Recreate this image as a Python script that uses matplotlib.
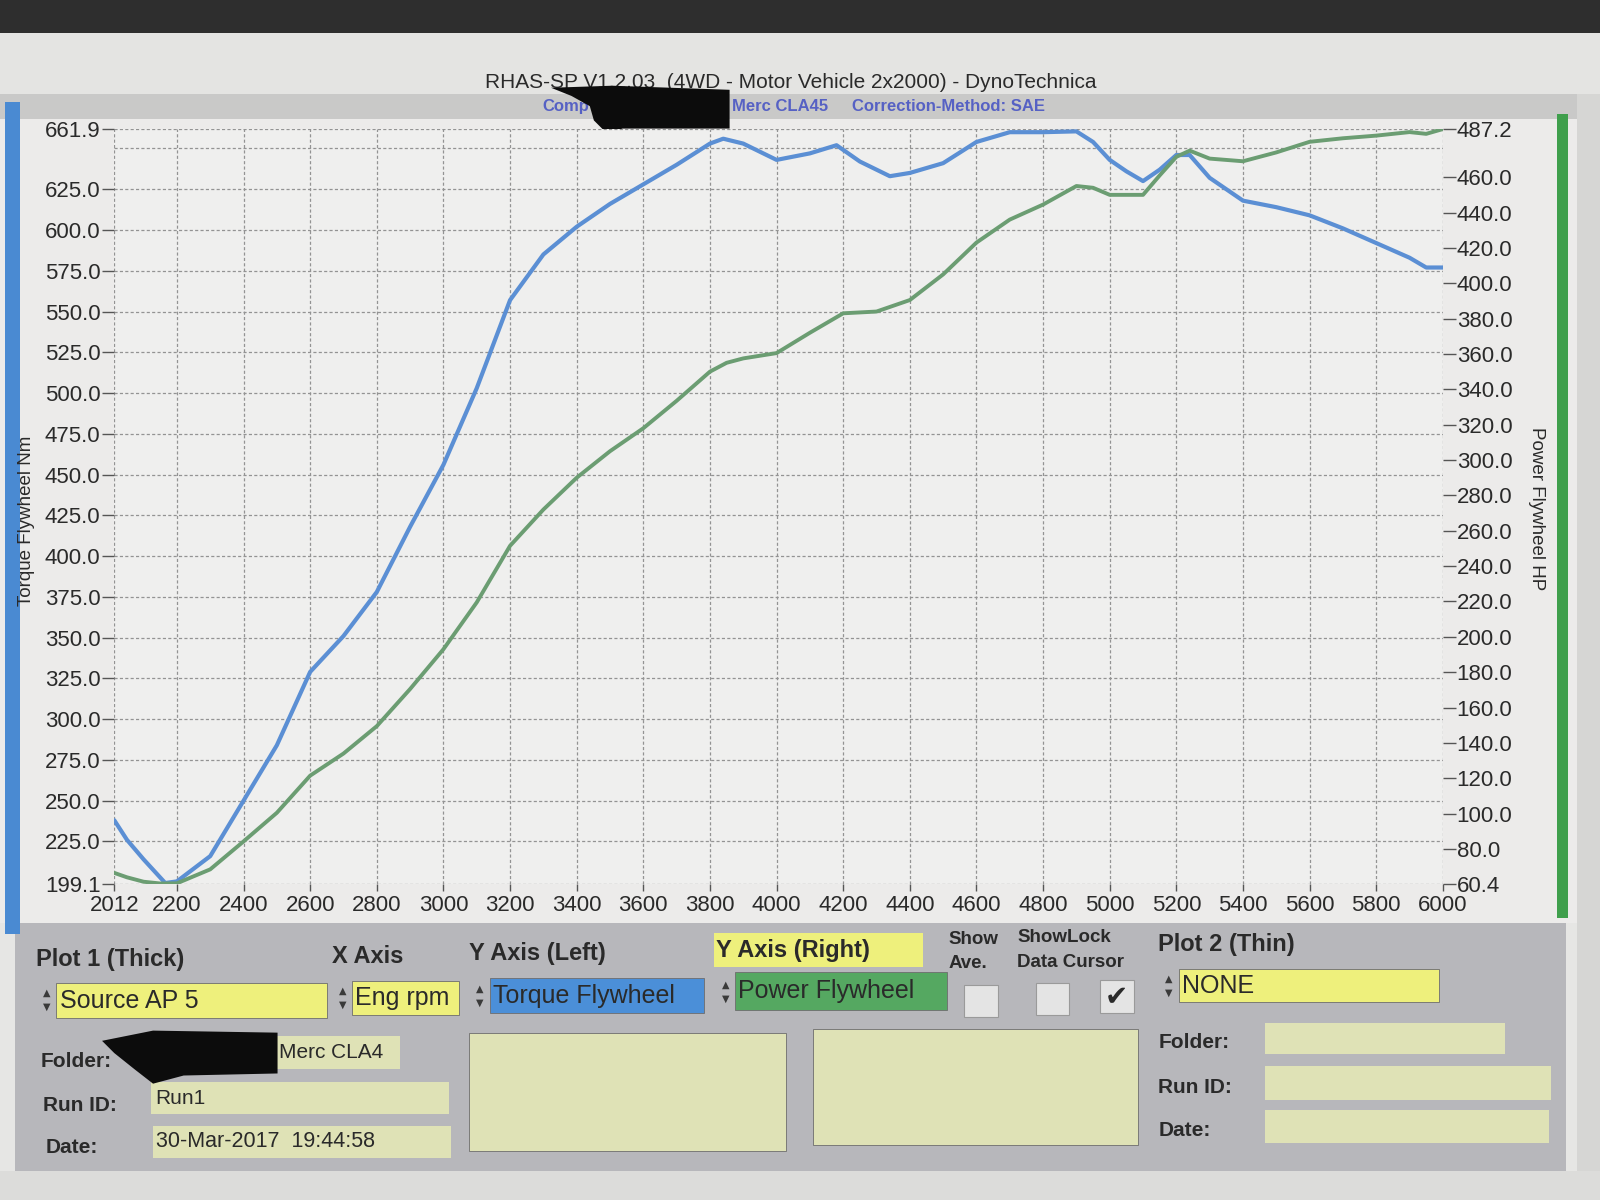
import matplotlib
matplotlib.use("Agg")
import matplotlib.pyplot as plt
from matplotlib.patches import Rectangle, Polygon

plt.rcParams['font.family'] = ['Liberation Sans', 'DejaVu Sans']

# ---------------- data ----------------
torque_rpm = [2012, 2050, 2100, 2165, 2200, 2300, 2400, 2500, 2600, 2700, 2800, 2900,
              3000, 3100, 3200, 3300, 3400, 3500, 3600, 3700, 3800, 3840, 3900, 4000,
              4100, 4180, 4250, 4340, 4400, 4500, 4600, 4700, 4800, 4900, 4950, 5000,
              5050, 5100, 5150, 5200, 5240, 5300, 5400, 5500, 5600, 5700, 5800, 5900,
              5950, 6000]
torque_nm = [238, 226, 214, 199.5, 200.5, 216, 250, 284, 329, 351, 378, 418,
             456, 503, 557, 585, 602, 616, 628, 640, 653, 656, 653, 643,
             647, 652, 642, 633, 635, 641, 654, 660, 660, 660.5, 654, 643,
             636, 630, 637, 646, 646, 632, 618, 614, 609, 601, 592, 583,
             577, 577]

power_rpm = [2012, 2050, 2100, 2150, 2200, 2300, 2400, 2500, 2600, 2700, 2800, 2900,
             3000, 3100, 3200, 3300, 3400, 3500, 3600, 3700, 3800, 3850, 3900, 4000,
             4100, 4200, 4300, 4400, 4500, 4600, 4700, 4800, 4900, 4950, 5000, 5100,
             5150, 5200, 5240, 5300, 5400, 5500, 5600, 5700, 5800, 5900, 5950, 6000]
power_hp = [66.5, 64, 61.5, 60.5, 60.6, 68.5, 84.3, 100.5, 121.5, 134, 149.5, 170.5,
            193, 219.5, 251.5, 272, 290, 305, 318, 333.5, 350, 355, 357.5, 360.5,
            372, 383, 384, 390.5, 405, 423, 436, 444.5, 455, 454, 450, 450,
            461, 471.5, 475, 470.5, 469, 474, 480, 482, 483.5, 485.5, 484.5, 487.2]

x_ticks = [2012, 2200, 2400, 2600, 2800, 3000, 3200, 3400, 3600, 3800, 4000,
           4200, 4400, 4600, 4800, 5000, 5200, 5400, 5600, 5800, 6000]
left_ticks = [199.1, 225.0, 250.0, 275.0, 300.0, 325.0, 350.0, 375.0, 400.0, 425.0,
              450.0, 475.0, 500.0, 525.0, 550.0, 575.0, 600.0, 625.0, 661.9]
left_grid = [199.1, 225.0, 250.0, 275.0, 300.0, 325.0, 350.0, 375.0, 400.0, 425.0,
             450.0, 475.0, 500.0, 525.0, 550.0, 575.0, 600.0, 625.0, 650.0, 661.9]
right_ticks = [60.4, 80.0, 100.0, 120.0, 140.0, 160.0, 180.0, 200.0, 220.0, 240.0,
               260.0, 280.0, 300.0, 320.0, 340.0, 360.0, 380.0, 400.0, 420.0, 440.0,
               460.0, 487.2]

title_text = "RHAS-SP V1.2.03  (4WD - Motor Vehicle 2x2000) - DynoTechnica"
left_label = "Torque Flywheel Nm"
right_label = "Power Flywheel HP"

# ---------------- figure ----------------
W, H = 1568.0, 1176.0
fig = plt.figure(figsize=(16, 12), dpi=100)
fig.patch.set_facecolor('#e6e6e4')


def fx(x):
    return x / W


def fy(y):
    return 1 - y / H


def rect(x0, y0, x1, y1, fc, ec='none', lw=0, z=0):
    r = Rectangle((fx(x0), fy(y1)), fx(x1) - fx(x0), fy(y0) - fy(y1),
                  transform=fig.transFigure, facecolor=fc, edgecolor=ec,
                  linewidth=lw, zorder=z)
    fig.patches.append(r)
    return r


def poly(pts, fc, z=5):
    p = Polygon([(fx(a), fy(b)) for a, b in pts], closed=True,
                transform=fig.transFigure, facecolor=fc, edgecolor='none', zorder=z)
    fig.patches.append(p)


def txt(x, y, s, size=15, bold=False, color='#2a2a2a', ha='left', va='center', **kw):
    return fig.text(fx(x), fy(y), s, fontsize=size, fontweight='bold' if bold else 'normal',
                    color=color, ha=ha, va=va, zorder=6, **kw)


# photo background / paper
rect(0, 0, W, 32, '#2e2e2e')
rect(0, 32, W, 92, '#e4e4e2')
rect(0, 92, 1560, 117, '#c9c9c8')
rect(0, 117, 1545, 905, '#ecebea')
rect(1545, 92, W, 1176, '#d6d6d4')
rect(5, 100, 20, 915, '#4a8ad2', z=1)
rect(1526, 112, 1537, 900, '#3f9f4c', z=1)

# header texts
txt(775, 81, title_text, size=15, ha='center', color='#2a2a2a')
txt(532, 104, "Comp", size=12, bold=True, color='#5661c4')
txt(717, 104, "Merc CLA45", size=12, bold=True, color='#5661c4')
txt(835, 104, "Correction-Method: SAE", size=12, bold=True, color='#5661c4')
poly([(540, 86), (600, 84), (715, 88), (715, 126), (610, 126), (595, 131),
      (582, 118), (578, 104), (560, 94)], '#0c0c0c', z=7)

# ---------------- chart ----------------
ax = fig.add_axes([fx(112), fy(866), fx(1414) - fx(112), fy(126.5) - fy(866)])
ax.set_zorder(10)
ax.set_facecolor('#efefee')
ax.set_xlim(2012, 6000)
ax.set_ylim(199.1, 661.9)
for s in ax.spines.values():
    s.set_visible(False)

for g in left_grid:
    ax.axhline(g, color='#939393', lw=0.9, ls=(0, (2.5, 1.8)), zorder=1)
for g in x_ticks:
    ax.axvline(g, color='#939393', lw=0.9, ls=(0, (2.5, 1.8)), zorder=1)

ax.set_xticks(x_ticks)
ax.set_xticklabels([str(v) for v in x_ticks])
ax.set_yticks(left_ticks)
ax.set_yticklabels([f"{v:.1f}" for v in left_ticks])
ax.tick_params(axis='y', direction='out', length=9, width=1, color='#555555',
               labelsize=16, labelcolor='#2a2a2a', pad=1)
ax.tick_params(axis='x', direction='out', length=5, width=1, color='#555555',
               labelsize=16, labelcolor='#2a2a2a', pad=3)

ax2 = ax.twinx()
ax2.set_zorder(11)
ax2.patch.set_visible(False)
ax2.set_ylim(60.4, 487.2)
for s in ax2.spines.values():
    s.set_visible(False)
ax2.set_yticks(right_ticks)
ax2.set_yticklabels([f"{v:.1f}" for v in right_ticks])
ax2.tick_params(axis='y', direction='out', length=9, width=1, color='#555555',
                labelsize=16, labelcolor='#2a2a2a', pad=1)

ax2.plot(power_rpm, power_hp, color='#6b9d72', lw=2.8, solid_capstyle='round',
         solid_joinstyle='round', zorder=4)
ax.plot(torque_rpm, torque_nm, color='#5b8fd4', lw=3.0, solid_capstyle='round',
        solid_joinstyle='round', zorder=5)

fig.text(fx(26), fy(510), left_label, rotation=90, fontsize=13.5, color='#2a2a2a',
         ha='center', va='center', zorder=6)
fig.text(fx(1506), fy(498), right_label, rotation=270, fontsize=13.5, color='#2a2a2a',
         ha='center', va='center', zorder=6)

# ---------------- control panel ----------------
rect(15, 905, 1535, 1148, '#b7b7bb')
rect(0, 1148, W, 1176, '#dcdcda')

YEL = '#eef07c'
PALE = '#dfe2b6'
EDGE = '#6d6d6d'


def arrows(x, y):
    txt(x, y - 7, "▲", size=7, color='#3a3a3a', ha='center', family='DejaVu Sans')
    txt(x, y + 7, "▼", size=7, color='#3a3a3a', ha='center', family='DejaVu Sans')


txt(35, 940, "Plot 1 (Thick)", size=17, bold=True)
txt(325, 937, "X Axis", size=17, bold=True)
txt(460, 934, "Y Axis (Left)", size=17, bold=True)
rect(700, 914, 905, 948, YEL, z=1)
txt(702, 931, "Y Axis (Right)", size=17, bold=True)
txt(930, 921, "Show", size=13.5, bold=True)
txt(930, 944, "Ave.", size=13.5, bold=True)
txt(997, 919, "ShowLock", size=13.5, bold=True)
txt(997, 943, "Data Cursor", size=13.5, bold=True)
txt(1135, 926, "Plot 2 (Thin)", size=17, bold=True)

arrows(46, 980)
rect(55, 963, 320, 998, YEL, EDGE, 0.6, z=1)
txt(59, 981, "Source AP 5", size=18)
arrows(336, 978)
rect(345, 961, 450, 995, YEL, EDGE, 0.6, z=1)
txt(348, 978, "Eng rpm", size=18)
arrows(470, 976)
rect(480, 958, 690, 993, '#4b8fd8', EDGE, 0.6, z=1)
txt(483, 976, "Torque Flywheel", size=18)
arrows(711, 972)
rect(720, 953, 928, 990, '#55a861', EDGE, 0.6, z=1)
txt(723, 971, "Power Flywheel", size=18)
rect(945, 965, 978, 997, '#e4e4e4', '#9a9a9a', 0.8, z=1)
rect(1015, 963, 1048, 995, '#e4e4e4', '#9a9a9a', 0.8, z=1)
rect(1078, 960, 1111, 993, '#e4e4e4', '#9a9a9a', 0.8, z=1)
txt(1094, 977, "✔", size=20, color='#2a2a2a', ha='center', family='DejaVu Sans')
arrows(1145, 966)
rect(1155, 950, 1410, 982, YEL, EDGE, 0.6, z=1)
txt(1158, 966, "NONE", size=18)

txt(40, 1040, "Folder:", size=15, bold=True)
rect(270, 1015, 392, 1048, PALE, z=1)
txt(273, 1031, "Merc CLA4", size=15)
poly([(100, 1020), (150, 1010), (272, 1012), (272, 1052), (180, 1054),
      (150, 1062), (132, 1048), (112, 1032)], '#0c0c0c', z=7)
rect(460, 1012, 770, 1128, PALE, EDGE, 0.6, z=1)
rect(797, 1008, 1115, 1122, PALE, EDGE, 0.6, z=1)
txt(42, 1083, "Run ID:", size=15, bold=True)
rect(148, 1060, 440, 1092, PALE, z=1)
txt(152, 1077, "Run1", size=15)
txt(45, 1125, "Date:", size=15, bold=True)
rect(150, 1103, 442, 1135, PALE, z=1)
txt(153, 1119, "30-Mar-2017  19:44:58", size=15.5)

txt(1135, 1022, "Folder:", size=15, bold=True)
rect(1240, 1003, 1475, 1033, PALE, z=1)
txt(1135, 1066, "Run ID:", size=15, bold=True)
rect(1240, 1045, 1520, 1078, PALE, z=1)
txt(1135, 1108, "Date:", size=15, bold=True)
rect(1240, 1088, 1518, 1120, PALE, z=1)

fig.savefig("out.png", dpi=100, facecolor=fig.get_facecolor())
